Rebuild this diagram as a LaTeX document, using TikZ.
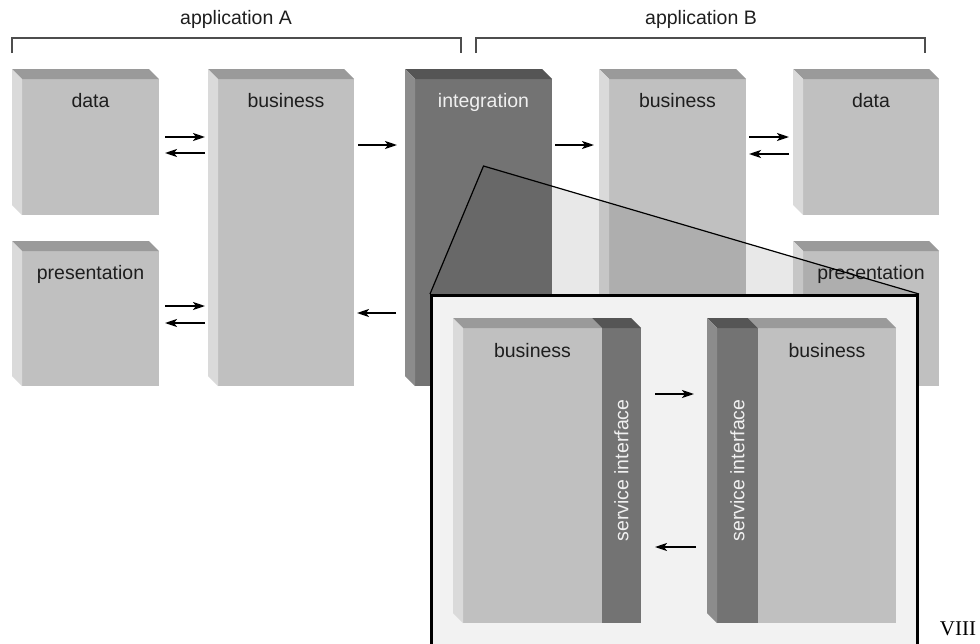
\documentclass[tikz,border=0pt]{standalone}
\usepackage{fontspec}
\setmainfont{Liberation Sans}
\newfontfamily\romanfont{Liberation Serif}
\usetikzlibrary{calc,arrows.meta}
\definecolor{frontg}{HTML}{C0C0C0}
\definecolor{topg}{HTML}{9A9A9A}
\definecolor{leftg}{HTML}{DADADA}
\definecolor{intfront}{HTML}{737373}
\definecolor{inttop}{HTML}{555555}
\definecolor{intleft}{HTML}{8C8C8C}
\definecolor{insetbg}{HTML}{F2F2F2}
\definecolor{lbltext}{HTML}{1E1E1E}
\definecolor{brk}{HTML}{4D4D4D}
\tikzset{
  face/.style={draw=none, inner sep=0pt, outer sep=0pt, anchor=north west},
  lbl/.style={anchor=base, font=\fontsize{19.5}{22}\selectfont, text=lbltext, inner sep=0pt},
  wlbl/.style={lbl, text=white!94!black},
  silbl/.style={font=\fontsize{19.5}{22}\selectfont, text=white!94!black, inner sep=0pt, rotate=90},
  arr/.style={-{Stealth[length=12pt,width=8pt,inset=3pt]}, line width=2pt, black},
  bracketline/.style={draw=brk, line width=1.5pt},
  insetframe/.style={draw=black, line width=3pt, fill=insetbg, inner sep=0pt, anchor=north west},
  zoomline/.style={draw=black, line width=1.2pt},
}
% name, x0, y0, x1, y1, front, top, left
\newcommand\blockthreed[8]{%
  \node[face, fill=#6, minimum width={#4-#2-10}, minimum height={#5-#3-10}] (#1) at ({#2+10},{#3+10}) {};
  \fill[#7] ($(#1.north west)+(-10,-10)$) -- ($(#1.north east)+(-10,-10)$) -- (#1.north east) -- (#1.north west) -- cycle;
  \fill[#8] ($(#1.north west)+(-10,-10)$) -- (#1.north west) -- (#1.south west) -- ($(#1.south west)+(-10,-10)$) -- cycle;
}
\begin{document}
\begin{tikzpicture}[x=1pt,y=-1pt]
\useasboundingbox (0,0) rectangle (980,643);

% brackets and titles
\draw[bracketline] (12,53) -- (12,38) -- (461,38) -- (461,53);
\draw[bracketline] (476,53) -- (476,38) -- (925,38) -- (925,53);
\node[lbl] (appA) at (236,24) {application A};
\node[lbl] (appB) at (701,24) {application B};

% main blocks
\blockthreed{dA}{12}{69}{159}{215}{frontg}{topg}{leftg}
\blockthreed{bA}{208}{69}{354}{386}{frontg}{topg}{leftg}
\blockthreed{pA}{12}{241}{159}{386}{frontg}{topg}{leftg}
\blockthreed{int}{405}{69}{552}{386}{intfront}{inttop}{intleft}
\blockthreed{bB}{599}{69}{746}{386}{frontg}{topg}{leftg}
\blockthreed{dB}{793}{69}{939}{215}{frontg}{topg}{leftg}
\blockthreed{pB}{793}{241}{939}{386}{frontg}{topg}{leftg}

\node[lbl] (ldA) at ($(dA.north)+(0,28)$) {data};
\node[lbl] (lbA) at ($(bA.north)+(0,28)$) {business};
\node[lbl] (lpA) at ($(pA.north)+(0,28)$) {presentation};
\node[wlbl] (lint) at ($(int.north)+(0,28)$) {integration};
\node[lbl] (lbB) at ($(bB.north)+(0,28)$) {business};
\node[lbl] (ldB) at ($(dB.north)+(0,28)$) {data};
\node[lbl] (lpB) at ($(pB.north)+(0,28)$) {presentation};

% main arrows
\draw[arr, shorten <=6pt, shorten >=13pt] (dA.east |- 0,137) -- (bA.west |- 0,137);
\draw[arr, shorten <=13pt, shorten >=6pt] (bA.west |- 0,153) -- (dA.east |- 0,153);
\draw[arr, shorten <=6pt, shorten >=13pt] (pA.east |- 0,306) -- (bA.west |- 0,306);
\draw[arr, shorten <=13pt, shorten >=6pt] (bA.west |- 0,323) -- (pA.east |- 0,323);
\draw[arr, shorten <=4pt, shorten >=18pt] (bA.east |- 0,145) -- (int.west |- 0,145);
\draw[arr, shorten <=19pt, shorten >=3pt] (int.west |- 0,313) -- (bA.east |- 0,313);
\draw[arr, shorten <=3pt, shorten >=15pt] (int.east |- 0,145) -- (bB.west |- 0,145);
\draw[arr, shorten <=3pt, shorten >=14pt] (bB.east |- 0,137) -- (dB.west |- 0,137);
\draw[arr, shorten <=14pt, shorten >=3pt] (dB.west |- 0,154) -- (bB.east |- 0,154);

% zoom inset
\coordinate (apex) at ($(int.north)+(0,87)$);
\node[insetframe, minimum width=486, minimum height=370] (zoom) at (430,294) {};
\fill[black, opacity=0.09] (apex) -- (zoom.north west) -- (zoom.north east) -- cycle;
\draw[zoomline] (zoom.north west) -- (apex) -- (zoom.north east);
\node[insetframe, minimum width=486, minimum height=370] at (430,294) {};

% inset left block
\node[face, fill=frontg, minimum width=139, minimum height=295] (lB) at (463,328) {};
\node[face, fill=intfront, minimum width=39, minimum height=295] (lS) at (602,328) {};
\fill[topg] ($(lB.north west)+(-10,-10)$) -- ($(lB.north east)+(-10,-10)$) -- (lB.north east) -- (lB.north west) -- cycle;
\fill[inttop] ($(lS.north west)+(-10,-10)$) -- ($(lS.north east)+(-10,-10)$) -- (lS.north east) -- (lS.north west) -- cycle;
\fill[leftg] ($(lB.north west)+(-10,-10)$) -- (lB.north west) -- (lB.south west) -- ($(lB.south west)+(-10,-10)$) -- cycle;
\node[lbl] (llB) at ($(lB.north)+(0,29)$) {business};
\node[silbl] (llS) at ($(lS.center)+(0,-5)$) {service interface};

% inset right block
\node[face, fill=intfront, minimum width=41, minimum height=295] (rS) at (717,328) {};
\node[face, fill=frontg, minimum width=138, minimum height=295] (rB) at (758,328) {};
\fill[inttop] ($(rS.north west)+(-10,-10)$) -- ($(rS.north east)+(-10,-10)$) -- (rS.north east) -- (rS.north west) -- cycle;
\fill[topg] ($(rB.north west)+(-10,-10)$) -- ($(rB.north east)+(-10,-10)$) -- (rB.north east) -- (rB.north west) -- cycle;
\fill[intleft] ($(rS.north west)+(-10,-10)$) -- (rS.north west) -- (rS.south west) -- ($(rS.south west)+(-10,-10)$) -- cycle;
\node[lbl] (lrB) at ($(rB.north)+(0,29)$) {business};
\node[silbl] (lrS) at ($(rS.center)+(0,-5)$) {service interface};

% inset arrows
\draw[arr, shorten <=14pt, shorten >=23pt] (lS.east |- 0,394) -- (rS.west |- 0,394);
\draw[arr, shorten <=21pt, shorten >=14pt] (rS.west |- 0,547) -- (lS.east |- 0,547);

% page mark
\node[anchor=base, inner sep=0pt, font=\romanfont\fontsize{21}{24}\selectfont] (mark) at (958,635) {VIII};
\end{tikzpicture}
\end{document}
